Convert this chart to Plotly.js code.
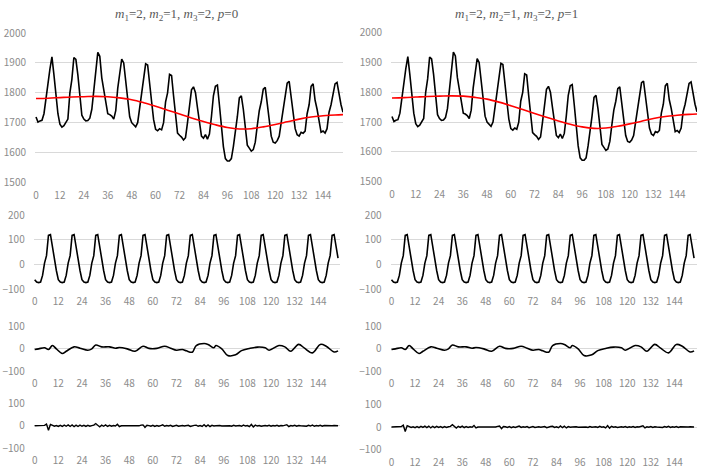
<!DOCTYPE html>
<html>
<head>
<meta charset="utf-8">
<script src="https://cdn.plot.ly/plotly-3.0.1.min.js"></script>
<style>html,body{margin:0;padding:0;background:#fff;}#chart{width:708px;height:475px;}</style>
</head>
<body>
<div id="chart"></div>
<script>
// ---------------- data ----------------
const xTickVals = [0,12,24,36,48,60,72,84,96,108,120,132,144];
const xTickText = ["0","12","24","36","48","60","72","84","96","108","120","132","144"];

const original = [
1719,1702,1706,1708,1730,1790,1830,1880,1920,1860,1790,1730,
1695,1685,1690,1700,1712,1800,1845,1918,1912,1860,1790,1725,
1712,1706,1707,1715,1745,1815,1870,1935,1922,1850,1810,1770,
1730,1727,1722,1712,1740,1815,1870,1913,1900,1840,1775,1720,
1700,1692,1686,1700,1750,1810,1860,1897,1893,1820,1770,1710,
1678,1673,1680,1676,1700,1770,1800,1862,1858,1790,1720,1665,
1658,1652,1642,1650,1700,1760,1810,1820,1800,1750,1700,1655,
1648,1660,1645,1662,1720,1790,1822,1826,1760,1690,1620,1580,
1572,1572,1580,1620,1665,1720,1783,1790,1745,1685,1625,1615,
1605,1610,1635,1690,1740,1770,1812,1818,1760,1700,1655,1635,
1632,1640,1655,1700,1740,1790,1832,1838,1780,1720,1680,1660,
1655,1668,1665,1672,1730,1760,1822,1830,1775,1745,1700,1668,
1672,1665,1680,1735,1760,1800,1830,1835,1790,1760,1735
];

const trendX = [0,6,12,18,24,30,36,42,48,54,60,66,72,78,84,90,96,102,108,114,120,126,132,138,144,150,154];
const trend  = [1781,1782,1784,1786,1787,1788,1787,1783,1777,1767,1755,1742,1729,1716,1704,1693,1684,1679,1680,1686,1694,1703,1712,1719,1723,1726,1727];

const seasonal = [
-62,-72,-74,-72,-45,5,35,118,121,70,25,-25,
-62,-72,-74,-72,-45,5,35,118,121,70,25,-25,
-62,-72,-74,-72,-45,5,35,118,121,70,25,-25,
-62,-72,-74,-72,-45,5,35,118,121,70,25,-25,
-62,-72,-74,-72,-45,5,35,118,121,70,25,-25,
-62,-72,-74,-72,-45,5,35,118,121,70,25,-25,
-62,-72,-74,-72,-45,5,35,118,121,70,25,-25,
-62,-72,-74,-72,-45,5,35,118,121,70,25,-25,
-62,-72,-74,-72,-45,5,35,118,121,70,25,-25,
-62,-72,-74,-72,-45,5,35,118,121,70,25,-25,
-62,-72,-74,-72,-45,5,35,118,121,70,25,-25,
-62,-72,-74,-72,-45,5,35,118,121,70,25,-25,
-62,-72,-74,-72,-45,5,35,118,121,70,25
];

const cycleX = [0,2,5,7,9,11,14,16,20,23,27,29,31,34,38,41,43,47,51,55,58,62,66,69,72,75,77,80,82,86,88,91,92,95,98,102,105,109,113,117,119,124,127,130,134,137,141,145,148,152,154];
const cycle  = [-3,0,5,-3,15,0,-21,-11,9,3,-6,0,17,9,9,3,6,0,-11,12,2,2,12,3,-6,-3,-9,-15,15,24,20,5,15,0,-30,-27,-8,2,8,5,-6,15,9,-11,20,3,-18,20,12,-14,-9];

const irregular = [
0,0,-1,0,1,2,8,-20,6,3,-2,1,
-3,2,-3,3,-2,4,-3,4,-4,3,-3,3,
-2,2,-3,2,-2,1,3,10,1,-5,3,-2,
4,-3,2,-2,1,-1,7,-4,0,0,1,0,
0,-1,0,1,-1,0,3,4,-7,2,1,-2,
2,-3,1,-2,1,4,-2,1,-1,2,-3,1,
2,-2,0,1,-1,0,2,-3,1,2,3,-2,
1,-3,5,-3,4,-4,2,-1,0,2,1,-1,
0,-2,1,0,-2,2,-1,0,1,-2,3,-1,
1,-4,6,-5,3,-1,1,-2,0,1,-1,2,
-2,1,-1,2,-2,1,0,1,5,-4,1,-1,
2,-2,1,0,-1,1,-2,2,-1,3,-2,1,
-1,2,-2,1,0,1,-1,0,1,-1,0
];

const titles = [
  "<i>m</i><sub>1</sub>=2, <i>m</i><sub>2</sub>=1, <i>m</i><sub>3</sub>=2, <i>p</i>=0",
  "<i>m</i><sub>1</sub>=2, <i>m</i><sub>2</sub>=1, <i>m</i><sub>3</sub>=2, <i>p</i>=1"
];

// ---------------- layout ----------------
const W = 708, H = 475;
const idx = original.map((_, i) => i);

const panels = [
  // left column
  {xd:[35,343],   xr:[-0.5,154],   yd:[33,182.5],   yr:[1500,2000], yt:[1500,1600,1700,1800,1900,2000]},
  {xd:[33.7,340], xr:[-0.5,155],   yd:[215,289],    yr:[-100,200],  yt:[-100,0,100,200]},
  {xd:[33.7,340], xr:[-0.5,155],   yd:[326.7,371],  yr:[-100,100],  yt:[-100,0,100]},
  {xd:[33.7,340], xr:[-0.5,155],   yd:[403.3,448.3],yr:[-100,100],  yt:[-100,0,100]},
  // right column
  {xd:[391,697],  xr:[-0.5,154],   yd:[32.7,181.7], yr:[1500,2000], yt:[1500,1600,1700,1800,1900,2000]},
  {xd:[390.5,697],xr:[-0.5,155.5], yd:[215,289],    yr:[-100,200],  yt:[-100,0,100,200]},
  {xd:[390.5,697],xr:[-0.5,155.5], yd:[326.7,371],  yr:[-100,100],  yt:[-100,0,100]},
  {xd:[390.5,697],xr:[-0.5,155.5], yd:[404.5,449.5],yr:[-100,100],  yt:[-100,0,100]}
];

const tickFont = {family: "Noto Sans CJK JP, Noto Sans, sans-serif", size: 10, color: "#8c8c8c"};
const titleFont = {family: "Liberation Serif, Times New Roman, serif", size: 13, color: "#595959"};
const layout = {
  width: W, height: H,
  margin: {l:0, r:0, t:0, b:0, pad:0},
  paper_bgcolor: "#ffffff", plot_bgcolor: "#ffffff",
  showlegend: false,
  annotations: [
    {text: titles[0], xref:"paper", yref:"paper", x:176/W, y:1-15/H, xanchor:"center", yanchor:"middle", showarrow:false, font: titleFont},
    {text: titles[1], xref:"paper", yref:"paper", x:516/W, y:1-15/H, xanchor:"center", yanchor:"middle", showarrow:false, font: titleFont}
  ]
};

panels.forEach((p, k) => {
  const n = k === 0 ? "" : String(k + 1);
  layout["xaxis" + n] = {
    domain: [p.xd[0]/W, p.xd[1]/W], range: p.xr, anchor: "y" + n,
    tickmode: "array", tickvals: xTickVals, ticktext: xTickText,
    showgrid: false, zeroline: false, showline: false,
    ticks: "outside", ticklen: 3, tickcolor: "rgba(0,0,0,0)",
    tickfont: tickFont, fixedrange: true
  };
  layout["yaxis" + n] = {
    domain: [1 - p.yd[1]/H, 1 - p.yd[0]/H], range: p.yr, anchor: "x" + n,
    tickmode: "array", tickvals: p.yt,
    showgrid: true, gridcolor: "#d9d9d9", gridwidth: 1,
    zeroline: false, showline: false,
    ticks: "outside", ticklen: 6, tickcolor: "rgba(0,0,0,0)",
    tickfont: tickFont, fixedrange: true
  };
});

// ---------------- traces ----------------
const traces = [];
function ax(k){ return k === 0 ? "" : String(k + 1); }
[0, 4].forEach(base => {
  traces.push({x: idx, y: original, type: "scatter", mode: "lines",
    line: {color: "#000000", width: 1.6}, xaxis: "x" + ax(base), yaxis: "y" + ax(base), hoverinfo: "skip"});
  traces.push({x: trendX, y: trend, type: "scatter", mode: "lines",
    line: {color: "#ff0000", width: 1.6, shape: "spline", smoothing: 1}, xaxis: "x" + ax(base), yaxis: "y" + ax(base), hoverinfo: "skip"});
  traces.push({x: idx, y: seasonal, type: "scatter", mode: "lines",
    line: {color: "#000000", width: 1.6}, xaxis: "x" + ax(base+1), yaxis: "y" + ax(base+1), hoverinfo: "skip"});
  traces.push({x: cycleX, y: cycle, type: "scatter", mode: "lines",
    line: {color: "#000000", width: 1.6, shape: "spline", smoothing: 1}, xaxis: "x" + ax(base+2), yaxis: "y" + ax(base+2), hoverinfo: "skip"});
  traces.push({x: idx, y: irregular, type: "scatter", mode: "lines",
    line: {color: "#000000", width: 1.4}, xaxis: "x" + ax(base+3), yaxis: "y" + ax(base+3), hoverinfo: "skip"});
});

Plotly.newPlot("chart", traces, layout, {staticPlot: true, displayModeBar: false});
</script>
</body>
</html>
